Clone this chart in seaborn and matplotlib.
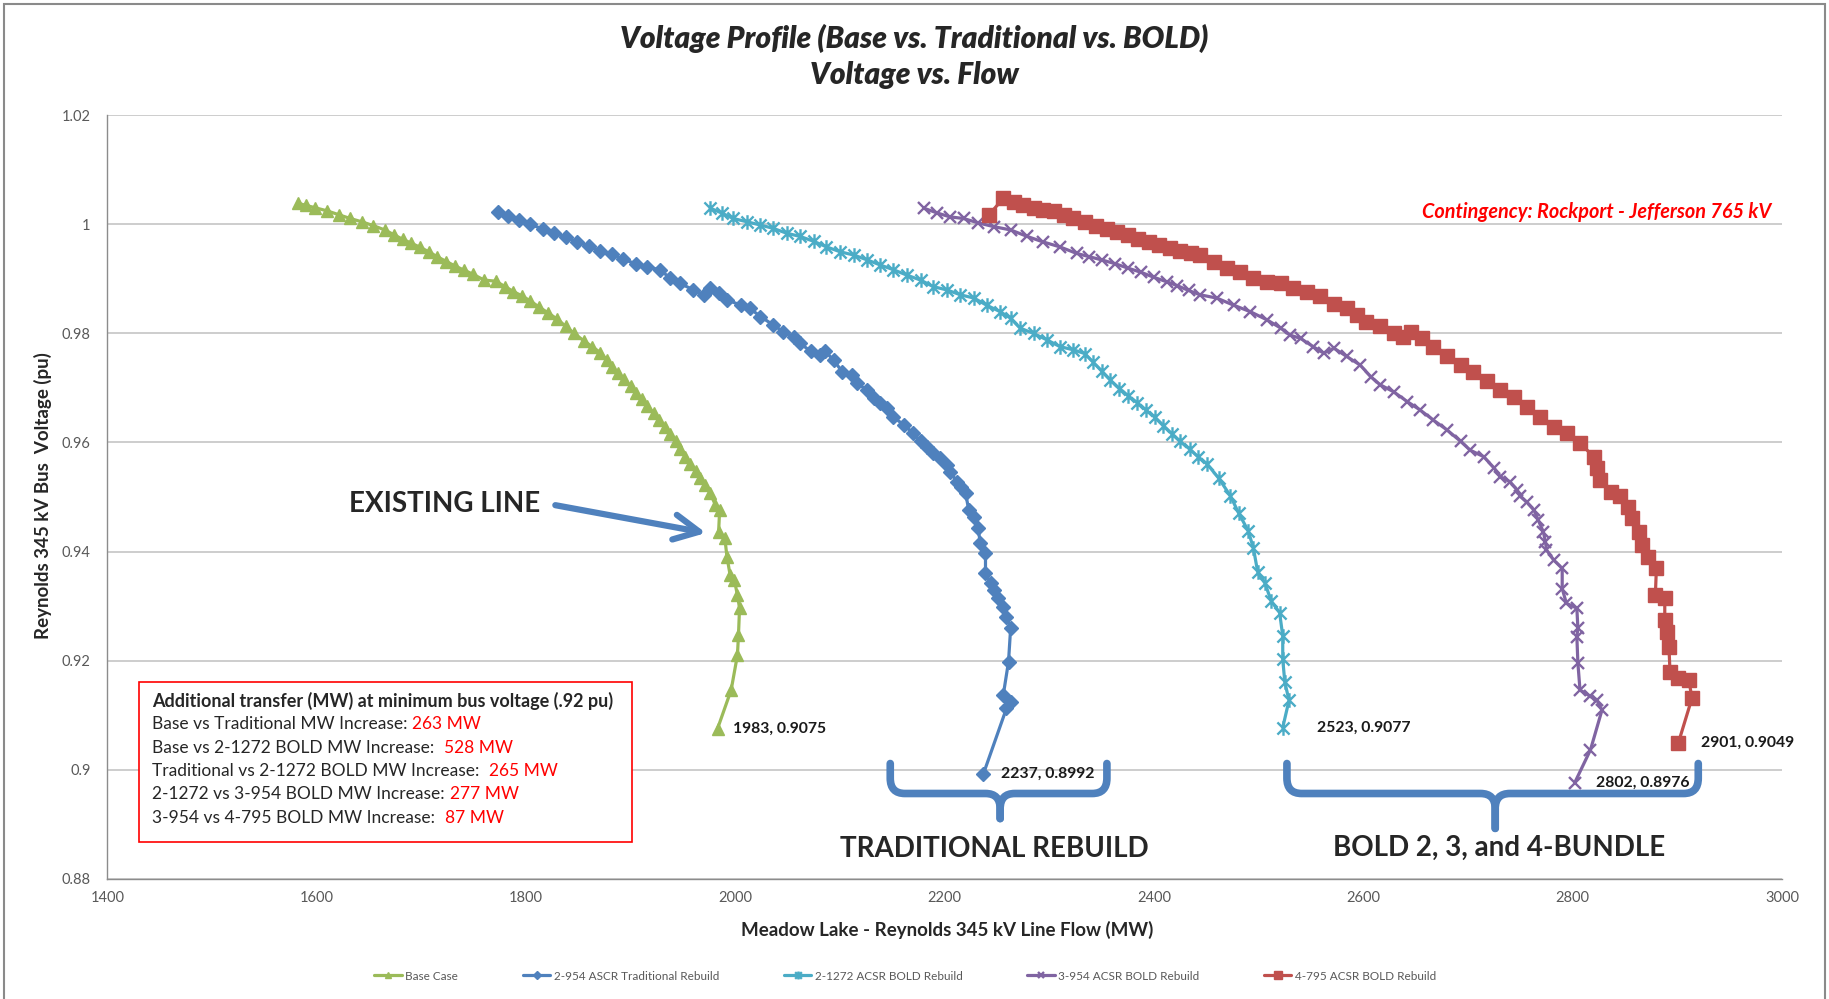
"""Voltage profile: Base vs Traditional vs BOLD rebuild, voltage vs. flow."""
import matplotlib
matplotlib.use("Agg")
import matplotlib.pyplot as plt
import seaborn as sns
from matplotlib.path import Path
from matplotlib.patches import PathPatch, Rectangle
from matplotlib.ticker import FuncFormatter, MultipleLocator

sns.set_theme(style="white")
plt.rcParams["font.family"] = ["Lato", "DejaVu Sans"]

# ─── data (MW flow, pu voltage) ───

base_mw = [1582, 1590, 1598, 1610, 1621, 1632, 1643, 1654, 1665, 1674, 1682, 1690,
           1699, 1707, 1715, 1724, 1732, 1741, 1749, 1760, 1771, 1780, 1788, 1796,
           1804, 1812, 1821, 1830, 1838, 1846, 1855, 1863, 1871, 1877, 1882, 1888,
           1894, 1900, 1905, 1911, 1916, 1922, 1927, 1933, 1938, 1943, 1947, 1952,
           1957, 1962, 1966, 1971, 1976, 1981, 1985, 1984, 1990, 1992, 1995, 1999,
           2002, 2004, 2003, 2002, 1996, 1983]
base_v = [1.0039, 1.0035, 1.0031, 1.0025, 1.0018, 1.0011, 1.0005, 0.9998, 0.9990, 0.9981,
          0.9973, 0.9966, 0.9958, 0.9950, 0.9941, 0.9932, 0.9924, 0.9916, 0.9909, 0.9898,
          0.9896, 0.9886, 0.9877, 0.9869, 0.9860, 0.9849, 0.9838, 0.9826, 0.9813, 0.9800,
          0.9787, 0.9776, 0.9765, 0.9752, 0.9738, 0.9727, 0.9716, 0.9703, 0.9690, 0.9679,
          0.9667, 0.9654, 0.9641, 0.9629, 0.9616, 0.9602, 0.9588, 0.9574, 0.9560, 0.9547,
          0.9534, 0.9522, 0.9507, 0.9485, 0.9476, 0.9436, 0.9424, 0.9390, 0.9357, 0.9348,
          0.9320, 0.9296, 0.9247, 0.9210, 0.9146, 0.9075]

trad_mw = [1773, 1783, 1793, 1804, 1816, 1827, 1838, 1849, 1860, 1871, 1882, 1893,
           1905, 1916, 1928, 1938, 1947, 1960, 1970, 1976, 1984, 1992, 2005, 2014,
           2024, 2036, 2046, 2056, 2062, 2072, 2081, 2086, 2094, 2102, 2111, 2116,
           2126, 2132, 2138, 2145, 2151, 2161, 2170, 2177, 2183, 2189, 2196, 2202,
           2205, 2212, 2216, 2220, 2223, 2228, 2232, 2234, 2239, 2239, 2244, 2247,
           2251, 2256, 2259, 2263, 2261, 2256, 2263, 2259, 2237]
trad_v = [1.0022, 1.0016, 1.0009, 1.0000, 0.9992, 0.9984, 0.9977, 0.9968, 0.9960, 0.9952,
          0.9945, 0.9936, 0.9928, 0.9922, 0.9917, 0.9901, 0.9892, 0.9880, 0.9871, 0.9883,
          0.9874, 0.9862, 0.9852, 0.9846, 0.9831, 0.9816, 0.9803, 0.9794, 0.9782, 0.9767,
          0.9761, 0.9767, 0.9751, 0.9730, 0.9724, 0.9709, 0.9696, 0.9681, 0.9672, 0.9663,
          0.9647, 0.9632, 0.9617, 0.9602, 0.9592, 0.9580, 0.9571, 0.9559, 0.9546, 0.9528,
          0.9519, 0.9507, 0.9476, 0.9464, 0.9443, 0.9415, 0.9397, 0.9360, 0.9342, 0.9329,
          0.9314, 0.9299, 0.9280, 0.9259, 0.9198, 0.9137, 0.9124, 0.9112, 0.8992]

b1272_mw = [1976, 1987, 1998, 2011, 2024, 2036, 2049, 2062, 2075, 2087, 2100, 2113,
            2126, 2138, 2151, 2164, 2177, 2189, 2202, 2215, 2228, 2240, 2253, 2263,
            2272, 2285, 2298, 2310, 2323, 2334, 2342, 2350, 2358, 2367, 2375, 2384,
            2392, 2401, 2409, 2417, 2425, 2434, 2442, 2451, 2462, 2473, 2481, 2490,
            2495, 2499, 2506, 2512, 2520, 2523, 2523, 2525, 2529, 2523]
b1272_v = [1.0030, 1.0021, 1.0011, 1.0005, 0.9999, 0.9993, 0.9984, 0.9978, 0.9969, 0.9959,
           0.9950, 0.9944, 0.9935, 0.9926, 0.9917, 0.9907, 0.9898, 0.9886, 0.9880, 0.9871,
           0.9865, 0.9852, 0.9840, 0.9828, 0.9810, 0.9800, 0.9788, 0.9776, 0.9770, 0.9763,
           0.9747, 0.9731, 0.9715, 0.9699, 0.9686, 0.9673, 0.9660, 0.9646, 0.9631, 0.9616,
           0.9602, 0.9588, 0.9574, 0.9560, 0.9534, 0.9502, 0.9470, 0.9438, 0.9406, 0.9363,
           0.9342, 0.9309, 0.9288, 0.9245, 0.9202, 0.9160, 0.9127, 0.9077]

b954_mw = [2180, 2193, 2205, 2218, 2232, 2247, 2263, 2279, 2294, 2310, 2326, 2338,
           2350, 2363, 2375, 2388, 2400, 2412, 2422, 2433, 2444, 2460, 2476, 2492,
           2508, 2521, 2530, 2540, 2552, 2562, 2572, 2584, 2597, 2607, 2616, 2629,
           2642, 2654, 2667, 2680, 2693, 2702, 2715, 2725, 2731, 2740, 2747, 2750,
           2756, 2763, 2767, 2772, 2774, 2775, 2782, 2790, 2790, 2794, 2804, 2805,
           2804, 2805, 2807, 2817, 2823, 2828, 2817, 2802]
b954_v = [1.0030, 1.0021, 1.0014, 1.0011, 1.0003, 0.9996, 0.9990, 0.9978, 0.9968, 0.9959,
          0.9947, 0.9941, 0.9935, 0.9928, 0.9920, 0.9912, 0.9903, 0.9895, 0.9888, 0.9879,
          0.9871, 0.9865, 0.9852, 0.9840, 0.9825, 0.9810, 0.9797, 0.9791, 0.9776, 0.9764,
          0.9773, 0.9758, 0.9742, 0.9721, 0.9706, 0.9693, 0.9675, 0.9660, 0.9641, 0.9623,
          0.9602, 0.9586, 0.9574, 0.9553, 0.9537, 0.9528, 0.9513, 0.9501, 0.9491, 0.9476,
          0.9458, 0.9436, 0.9418, 0.9403, 0.9384, 0.9369, 0.9332, 0.9305, 0.9296, 0.9259,
          0.9244, 0.9195, 0.9146, 0.9134, 0.9128, 0.9109, 0.9036, 0.8976]

b795_mw = [2242, 2256, 2266, 2275, 2285, 2294, 2304, 2314, 2323, 2334, 2345, 2355,
           2365, 2375, 2385, 2395, 2405, 2415, 2425, 2435, 2444, 2457, 2470, 2482,
           2495, 2508, 2521, 2533, 2546, 2559, 2572, 2584, 2594, 2603, 2616, 2629,
           2638, 2646, 2656, 2667, 2680, 2693, 2705, 2718, 2731, 2744, 2756, 2769,
           2782, 2795, 2807, 2820, 2823, 2826, 2837, 2845, 2853, 2857, 2863, 2866,
           2872, 2880, 2879, 2888, 2888, 2890, 2892, 2893, 2901, 2911, 2914, 2901]
b795_v = [1.0017, 1.0048, 1.0042, 1.0036, 1.0030, 1.0027, 1.0024, 1.0017, 1.0011, 1.0004,
          0.9998, 0.9992, 0.9986, 0.9980, 0.9973, 0.9968, 0.9962, 0.9957, 0.9952, 0.9948,
          0.9944, 0.9932, 0.9920, 0.9913, 0.9901, 0.9895, 0.9892, 0.9883, 0.9877, 0.9868,
          0.9855, 0.9846, 0.9834, 0.9822, 0.9813, 0.9800, 0.9794, 0.9803, 0.9791, 0.9776,
          0.9758, 0.9742, 0.9730, 0.9712, 0.9696, 0.9684, 0.9666, 0.9647, 0.9629, 0.9617,
          0.9599, 0.9574, 0.9553, 0.9531, 0.9510, 0.9501, 0.9482, 0.9461, 0.9436, 0.9412,
          0.9390, 0.9369, 0.9320, 0.9314, 0.9274, 0.9253, 0.9225, 0.9179, 0.9167, 0.9164,
          0.9131, 0.9049]

series_names = ["Base Case", "2-954 ASCR Traditional Rebuild", "2-1272 ACSR BOLD Rebuild",
                "3-954 ACSR BOLD Rebuild", "4-795 ACSR BOLD Rebuild"]
series_mw = [base_mw, trad_mw, b1272_mw, b954_mw, b795_mw]
series_v = [base_v, trad_v, b1272_v, b954_v, b795_v]

box_title = "Additional transfer (MW) at minimum bus voltage (.92 pu)"
box_labels = ["Base vs Traditional MW Increase:", "Base vs 2-1272 BOLD MW Increase:",
              "Traditional vs 2-1272 BOLD MW Increase:", "2-1272 vs 3-954 BOLD MW Increase:",
              "3-954 vs 4-795 BOLD MW Increase:"]
box_values = ["263 MW", "528 MW", "265 MW", "277 MW", "87 MW"]
box_gaps = [1, 2, 2, 1, 2]  # number of spaces after the colon

# ─── styles ───

star = Path([(-1, -1), (1, 1), (-1, 1), (1, -1), (0, -1.2), (0, 1.2)],
            [Path.MOVETO, Path.LINETO, Path.MOVETO, Path.LINETO, Path.MOVETO, Path.LINETO])
colors = ["#9BBB59", "#4F81BD", "#4BACC6", "#8064A2", "#C0504D"]
markers = ["^", "D", star, "x", "s"]
msizes = [8.5, 7, 10.5, 9, 9.5]
mews = [1, 1, 1.7, 1.7, 1]
label_offsets = [11, 13, 25, 15, 16]  # points to the right of the last marker
BRACE = "#4F81BD"

fig = plt.figure(figsize=(18.29, 9.99), dpi=100)
ax = fig.add_axes([0.0587, 0.1206, 0.9156, 0.7638])

for name, mw, v, c, m, ms, mew in zip(series_names, series_mw, series_v, colors, markers, msizes, mews):
    sns.lineplot(x=mw, y=v, ax=ax, sort=False, estimator=None, errorbar=None,
                 color=c, lw=2.3, marker=m, markersize=ms, markerfacecolor=c,
                 markeredgecolor=c, markeredgewidth=mew, label=name, legend=False)

for mw, v, dx in zip(series_mw, series_v, label_offsets):
    ax.annotate(f"{mw[-1]}, {v[-1]:.4f}", xy=(mw[-1], v[-1]), xytext=(dx, 0),
                textcoords="offset points", ha="left", va="center",
                fontsize=11.3, fontweight="bold", color="#1a1a1a")

# ─── axes ───
ax.set_xlim(1400, 3000)
ax.set_ylim(0.88, 1.02)
ax.xaxis.set_major_locator(MultipleLocator(200))
ax.yaxis.set_major_locator(MultipleLocator(0.02))
ax.yaxis.set_major_formatter(FuncFormatter(lambda v, _: f"{v:.2f}".rstrip("0").rstrip(".")))
ax.set_xlabel("")
ax.set_ylabel("")
ax.tick_params(axis="both", length=0, labelsize=10.5, labelcolor="#595959")
ax.tick_params(axis="x", pad=9)
ax.tick_params(axis="y", pad=12)
ax.yaxis.grid(True, color="#c9c9c9", lw=1.3)
ax.xaxis.grid(False)
for side in ["top", "right"]:
    ax.spines[side].set_visible(False)
for side in ["left", "bottom"]:
    ax.spines[side].set_color("#8c8c8c")
    ax.spines[side].set_linewidth(1.0)

# ─── titles / axis labels ───
fig.text(0.5, 1 - 38 / 999, "Voltage Profile (Base vs. Traditional vs. BOLD)", ha="center",
         va="center", fontsize=21.5, fontweight="heavy", fontstyle="italic")
fig.text(0.5, 1 - 75 / 999, "Voltage vs. Flow", ha="center", va="center",
         fontsize=21.5, fontweight="heavy", fontstyle="italic")
fig.text(43 / 1829, 1 - 496 / 999, "Reynolds 345 kV Bus  Voltage (pu)", rotation=90,
         ha="center", va="center", fontsize=13.5, fontweight="bold")
fig.text(947 / 1829, 1 - 930 / 999, "Meadow Lake - Reynolds 345 kV Line Flow (MW)",
         ha="center", va="center", fontsize=13.5, fontweight="bold")

# ─── annotations ───
ax.text(2990, 1.0023, "Contingency: Rockport - Jefferson 765 kV", ha="right", va="center",
        color="#FF0000", fontsize=14.3, fontweight="bold", fontstyle="italic")
ax.text(1722, 0.9487, "EXISTING LINE", ha="center", va="center", fontsize=20, fontweight="bold")
ax.annotate("", xy=(1972, 0.9434), xytext=(1828, 0.9485),
            arrowprops=dict(arrowstyle="->, head_length=0.9, head_width=0.45", color=BRACE,
                            lw=4.5, shrinkA=0, shrinkB=0, mutation_scale=20))
ax.text(2247, 0.8854, "TRADITIONAL REBUILD", ha="center", va="center", fontsize=20,
        fontweight="bold")
ax.text(2730, 0.8856, "BOLD 2, 3, and 4-BUNDLE", ha="center", va="center", fontsize=20,
        fontweight="bold")


def brace(x0, x1, xc, top, mid, tip, rx=14, ry=0.0028):
    for a in (x0, x1):
        s = 1 if a < xc else -1
        verts = [(a, top), (a, mid + ry), (a, mid), (a + s * rx, mid),
                 (xc - s * rx, mid), (xc, mid), (xc, mid - ry), (xc, tip)]
        codes = [Path.MOVETO, Path.LINETO, Path.CURVE3, Path.CURVE3,
                 Path.LINETO, Path.CURVE3, Path.CURVE3, Path.LINETO]
        ax.add_patch(PathPatch(Path(verts, codes), fill=False, edgecolor=BRACE, lw=5.5,
                               capstyle="round", joinstyle="round", clip_on=False))


brace(2148, 2355, 2253, 0.9011, 0.8956, 0.8910)
brace(2527, 2920, 2726, 0.9011, 0.8956, 0.8892)

# ─── text box ───
fig.patches.append(Rectangle((139 / 1829, 1 - 842 / 999), 493 / 1829, 160 / 999,
                             transform=fig.transFigure, fill=True, facecolor="white",
                             edgecolor="#FF0000", lw=1.2, zorder=3))
line_y = [701, 724, 748, 771, 794, 818]
fig.text(152 / 1829, 1 - line_y[0] / 999, box_title, ha="left", va="center",
         fontsize=13, fontweight="bold", zorder=4)
renderer = fig.canvas.get_renderer()
for lab, val, gap, y in zip(box_labels, box_values, box_gaps, line_y[1:]):
    t = fig.text(152 / 1829, 1 - y / 999, lab, ha="left", va="center", fontsize=12.5, zorder=4)
    x1 = t.get_window_extent(renderer).x1 + 5 * gap
    fig.text(x1 / 1829, 1 - y / 999, val, ha="left", va="center", fontsize=12.5,
             color="#FF0000", zorder=4)

# ─── legend ───
fig.legend(handles=ax.lines[:5], labels=series_names, loc="center",
           bbox_to_anchor=(0.495, 1 - 976 / 999), ncol=5, frameon=False, fontsize=8.5,
           markerscale=0.55, handlelength=2.3, handletextpad=0.3, columnspacing=5.5,
           labelcolor="#595959")

# chart border
fig.patches.append(Rectangle((4 / 1829, -0.01), 1821 / 1829, 1.006, transform=fig.transFigure,
                             fill=False, edgecolor="#8a8a8a", lw=1.5))

fig.savefig("out.png", dpi=100)
plt.close()
